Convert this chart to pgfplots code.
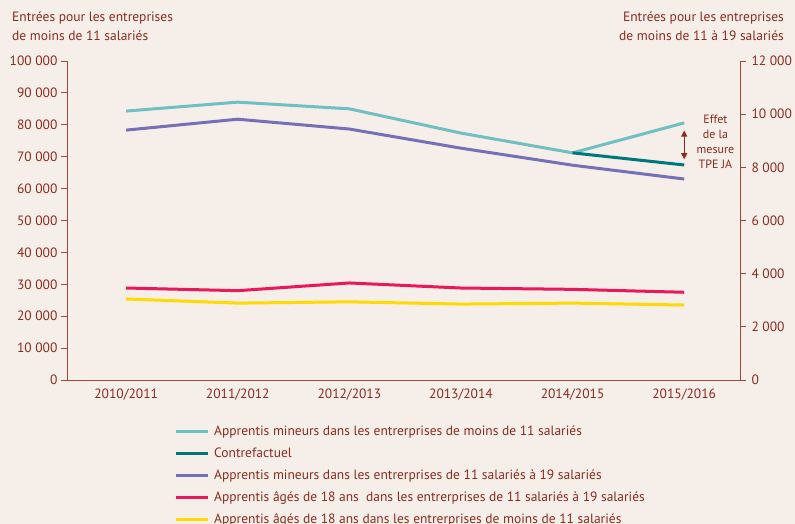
\documentclass[border=0pt]{standalone}
\usepackage{fontspec}
\setmainfont{PT Sans}
\usepackage{pgfplots}
\pgfplotsset{compat=1.18}
\usetikzlibrary{arrows.meta}
\definecolor{bg}{HTML}{F6EEE8}
\definecolor{txt}{HTML}{8C2B1E}
\definecolor{axc}{HTML}{A4463A}
\definecolor{cyanl}{HTML}{6FBFC3}
\definecolor{tealc}{HTML}{00777D}
\definecolor{purp}{HTML}{7570B8}
\definecolor{redl}{HTML}{E8185A}
\definecolor{yel}{HTML}{FFDA00}
\begin{document}
\begin{tikzpicture}[x=1pt,y=1pt]
\fill[bg] (0,0) rectangle (795,524);
\useasboundingbox (0,0) rectangle (795,524);
\node[anchor=north west, align=left, text=txt, font=\fontsize{13.5}{19}\selectfont, inner sep=0] at (12,512) {Entrées pour les entreprises\\de moins de 11 salariés};
\node[anchor=north east, align=right, text=txt, font=\fontsize{13.5}{19}\selectfont, inner sep=0] at (784,512) {Entrées pour les entreprises\\de moins de 11 à 19 salariés};
\pgfplotsset{
  common/.style={
    scale only axis, width=673pt, height=319pt,
    at={(67pt,144pt)}, anchor=south west,
    xmin=-0.53, xmax=5.5, ymin=0,
    scaled y ticks=false,
    axis line style={axc, line width=0.9pt},
    tick style={axc, line width=0.9pt},
    tick align=outside, major tick length=6pt,
    ticklabel style={text=txt, font=\fontsize{13.5}{15}\selectfont},
    every axis plot/.append style={line width=3pt, line join=round},
    clip=false,
  }
}
\begin{axis}[common,
  axis x line*=bottom, axis y line*=left,
  ymax=100000,
  xtick={0,1,2,3,4,5},
  xticklabels={2010/2011,2011/2012,2012/2013,2013/2014,2014/2015,2015/2016},
  xtick style={draw=none},
  xticklabel style={yshift=1pt},
  ytick={0,10000,20000,30000,40000,50000,60000,70000,80000,90000,100000},
  yticklabels={0,10 000,20 000,30 000,40 000,50 000,60 000,70 000,80 000,90 000,100 000},
  legend image code/.code={\draw[#1] (0pt,0pt) -- (32pt,0pt);},
  legend cell align=left,
  legend style={at={(axis description cs:0.159,-0.136)}, anchor=north west,
    draw=none, fill=none, inner sep=0pt, row sep=5.5pt,
    font=\fontsize{13.5}{15}\selectfont, text=txt,
    nodes={inner xsep=5pt, inner ysep=2pt, text height=9.5pt, text depth=3pt}},
]
\addplot[cyanl, forget plot] coordinates {(0,84300) (1,87100) (2,85000) (3,77400) (4,71200) (5,80600)};
\addplot[tealc, forget plot] coordinates {(4,71200) (5,67400)};
\addplot[yel, forget plot] coordinates {(0,25400) (1,24100) (2,24500) (3,23800) (4,24100) (5,23500)};
\addlegendimage{cyanl, line width=3pt}
\addlegendentry{Apprentis mineurs dans les entrerprises de moins de 11 salariés}
\addlegendimage{tealc, line width=3pt}
\addlegendentry{Contrefactuel}
\addlegendimage{purp, line width=3pt}
\addlegendentry{Apprentis mineurs dans les entrerprises de 11 salariés à 19 salariés}
\addlegendimage{redl, line width=3pt}
\addlegendentry{Apprentis âgés de 18 ans\ \ dans les entrerprises de 11 salariés à 19 salariés}
\addlegendimage{yel, line width=3pt}
\addlegendentry{Apprentis âgés de 18 ans dans les entrerprises de moins de 11 salariés}
\draw[txt, line width=1.2pt, {Triangle[length=6pt,width=6pt]}-{Triangle[length=6pt,width=6pt]}] (axis cs:5,78200) -- (axis cs:5,69200);
\node[text=txt, align=center, font=\fontsize{12}{15}\selectfont] at (axis cs:5.28,74600) {Effet\\de la\\mesure\\TPE JA};
\end{axis}
\begin{axis}[common,
  axis x line=none, axis y line*=right,
  ymax=12000,
  ytick={0,2000,4000,6000,8000,10000,12000},
  yticklabels={0,2 000,4 000,6 000,8 000,10 000,12 000},
  yticklabel style={xshift=2pt},
]
\addplot[purp] coordinates {(0,9400) (1,9810) (2,9440) (3,8720) (4,8080) (5,7560)};
\addplot[redl] coordinates {(0,3460) (1,3360) (2,3650) (3,3460) (4,3410) (5,3300)};
\end{axis}
\end{tikzpicture}
\end{document}
